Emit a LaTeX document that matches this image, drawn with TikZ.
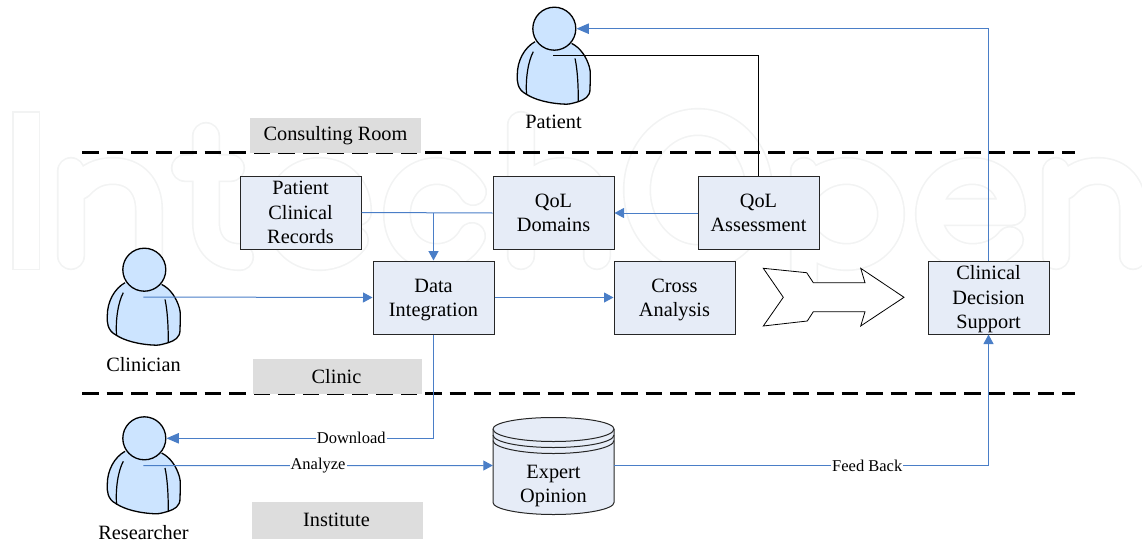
\documentclass[tikz,border=0pt]{standalone}
\usepackage{fontspec}
\setmainfont{Liberation Serif}
\usetikzlibrary{arrows.meta}
\definecolor{boxfill}{HTML}{E6ECF7}
\definecolor{bluel}{HTML}{4A7EC7}
\definecolor{personfill}{HTML}{CCE4FF}
\definecolor{tagfill}{HTML}{DDDDDD}
\definecolor{wm}{HTML}{F2F3F3}
\newcommand{\liftline}{\rule{0pt}{18pt}}
\tikzset{
 mainfont/.style={font=\fontsize{20.3}{24.5}\selectfont},
 boxn/.style={draw=black!85,fill=boxfill,line width=1pt,minimum width=121pt,minimum height=73pt,inner sep=0pt,align=center,mainfont},
 tag/.style={fill=tagfill,inner sep=0pt,mainfont},
 plain/.style={inner sep=0pt,mainfont},
 edgel/.style={fill=white,inner sep=1pt,font=\fontsize{16.5}{18}\selectfont},
 conn/.style={draw=bluel,line width=1pt},
 arr/.style={conn,-{Triangle[length=9.5pt,width=10pt]}},
 arrbig/.style={conn,-{Triangle[length=12.5pt,width=10.5pt]}},
 zone/.style={line width=2.6pt,dash pattern=on 16.5pt off 8pt},
 wmark/.style={draw=wm,line width=1.6pt,double=white,double distance=25pt,line cap=round,line join=round},
 body/.style={draw=black,line width=1.3pt,fill=personfill},
 limb/.style={draw=black,line width=1.2pt},
}
\newcommand{\personfig}[3]{%
 \begin{scope}[shift={(#2,#3)}]
  \path[body] (-19.3,13) .. controls (-30,19) and (-37,32) .. (-37,46) .. controls (-37.5,52) and (-37,61) .. (-28.3,65.3) .. controls (-20,71) and (-5,75) .. (12,75.5) .. controls (16,75.5) and (20,74) .. (24,73) .. controls (30,71) and (36,68) .. (35.7,60) .. controls (36,50) and (36.5,42) .. (35,38) .. controls (32,28) and (26,19) .. (17.3,14.7);
  \path[limb] (-21,23) .. controls (-26,32) and (-29,50) .. (-27.7,66.3);
  \path[limb] (20.7,29.7) .. controls (23,40) and (24,55) .. (24,73);
  \node[circle,draw=black,line width=1.3pt,fill=personfill,minimum size=43pt,inner sep=0pt] (#1) at (0,0) {};
  \coordinate (#1-body) at (-1,27.3);
 \end{scope}}
\begin{document}
\begin{tikzpicture}[x=1pt,y=-1pt]
\useasboundingbox (0,0) rectangle (1142,543);
% watermark
\path[wmark,line cap=rect] (26,125) -- (26,256);
\path[wmark] (71,171) -- (71,256) (80,186) .. controls (90,175) and (100,171) .. (113,171) .. controls (135,171) and (149,186) .. (149,210) -- (149,256);
\path[wmark] (206,136) -- (206,222) .. controls (206,245) and (220,257) .. (240,257) (185,168) -- (231,168);
\path[wmark] (279,212) -- (358,212) .. controls (358,188) and (343,171) .. (319,171) .. controls (295,171) and (279,190) .. (279,214) .. controls (279,238) and (295,257) .. (319,257) .. controls (335,257) and (347,250) .. (355,240);
\path[wmark] (473,192) .. controls (465,179) and (452,171) .. (437,171) .. controls (413,171) and (397,190) .. (397,214) .. controls (397,238) and (413,257) .. (437,257) .. controls (452,257) and (465,249) .. (472,236);
\path[wmark] (521,125) -- (521,256) (530,186) .. controls (540,175) and (550,171) .. (563,171) .. controls (583,171) and (597,186) .. (597,210) -- (597,256);
\path[wmark] (698,122) .. controls (664,122) and (637,152) .. (637,190) .. controls (637,228) and (664,258) .. (698,258) .. controls (732,258) and (759,228) .. (759,190) .. controls (759,152) and (732,122) .. (698,122);
\path[wmark] (804,171) -- (804,300) (807,190) .. controls (817,178) and (830,171) .. (847,171) .. controls (871,171) and (891,190) .. (891,214) .. controls (891,238) and (871,257) .. (847,257) .. controls (830,257) and (817,250) .. (807,238);
\path[wmark] (932,212) -- (1012,212) .. controls (1012,188) and (996,171) .. (972,171) .. controls (948,171) and (929,190) .. (929,214) .. controls (929,238) and (948,257) .. (972,257) .. controls (990,257) and (1002,250) .. (1010,240);
\path[wmark] (1056,171) -- (1056,256) (1065,186) .. controls (1075,175) and (1085,171) .. (1098,171) .. controls (1120,171) and (1133,186) .. (1133,210) -- (1133,256);
% zones
\coordinate (z1a) at (82,152.5);
\coordinate (z1b) at (1075,152.5);
\coordinate (z2a) at (82,393.5);
\coordinate (z2b) at (1075,393.5);
\draw[zone] (z1a) -- (z1b);
\draw[zone] (z2a) -- (z2b);
\node[tag,minimum width=171pt,minimum height=35pt,text height=14pt,text depth=4pt] (tagroom) at (335.5,135.5) {Consulting Room};
\node[tag,minimum width=169pt,minimum height=35pt] (tagclinic) at (337.5,376.5) {\hspace*{-2pt}Clinic};
\node[tag,minimum width=171pt,minimum height=37pt] (taginst) at (337.5,520.5) {\hspace*{-2pt}\raisebox{1pt}[\height][\depth]{Institute}};
% people
\personfig{patient}{554.3}{28.7}
\personfig{clinician}{144.3}{269.7}
\personfig{researcher}{144.3}{438.3}
\node[plain] (patientl) at (553.5,122) {Patient};
\node[plain] (clinicianl) at (143.5,365) {Clinician};
\node[plain] (researcherl) at (143.5,533) {Researcher};
% boxes
\node[boxn] (records) at (300.5,212.5) {Patient\\Clinical\\Records};
\node[boxn] (domains) at (553.5,213) {QoL\\Domains};
\node[boxn] (assess) at (758.5,213) {QoL\\Assessment};
\node[boxn] (integ) at (433.5,297.5) {\liftline Data\\Integration};
\node[boxn] (cross) at (674.5,297.5) {\liftline Cross\\Analysis};
\node[boxn] (cds) at (988.5,297.5) {\liftline Clinical\\Decision\\Support};
% cylinder
\path[draw=black!85,fill=boxfill,line width=1pt] (493,429) -- (493,502.5) .. controls (493,509) and (520,514.5) .. (553.5,514.5) .. controls (587,514.5) and (614,509) .. (614,502.5) -- (614,429);
\path[draw=black!85,fill=boxfill,line width=1pt] (493,429) .. controls (493,422.5) and (520,417.5) .. (553.5,417.5) .. controls (587,417.5) and (614,422.5) .. (614,429) .. controls (614,436) and (587,441.5) .. (553.5,441.5) .. controls (520,441.5) and (493,436) .. (493,429);
\path[draw=black!85,line width=1pt] (493,435) .. controls (493,442) and (520,447.5) .. (553.5,447.5) .. controls (587,447.5) and (614,442) .. (614,435);
\path[draw=black!85,line width=1pt] (493,440.5) .. controls (493,447.5) and (520,453.5) .. (553.5,453.5) .. controls (587,453.5) and (614,447.5) .. (614,440.5);
\node[minimum width=121pt,minimum height=97pt,inner sep=0pt] (expert) at (553.5,465.5) {};
\node[plain,align=center] (expertl) at (553.5,486) {Expert\\Opinion};
% big arrow
\path[draw=black,fill=white,line width=.8pt,line join=miter] (763.3,268.3) -- (806.7,272.7) -- (813.3,282.7) -- (865,282.7) -- (860.7,268.3) -- (904,297.3) -- (860.7,326) -- (865,311.7) -- (813.3,311.7) -- (807.3,321) -- (763.3,326) -- (783.3,297.3) -- cycle;
% connectors
\draw[draw=black,line width=1pt] (patient-body) -| (assess.north);
\draw[arrbig] (cds.north) |- (patient.east);
\draw[arr] (assess.west) -- (domains.east);
\draw[conn] (records.east) -- (domains.west);
\coordinate (join) at (433.5,213);
\draw[arr,line width=1.4pt] (join) -- (integ.north);
\draw[arr] (clinician-body) -- (integ.west);
\draw[arr] (integ.east) -- (cross.west);
\draw[arrbig] (integ.south) |- node[edgel,pos=.654] (dl) {Download} (researcher.east);
\draw[arr] (researcher-body) -- node[edgel,pos=.5] (al) {Analyze} (expert.west);
\draw[arr] (expert.east) -| node[edgel,pos=.338] (fb) {Feed Back} (cds.south);
\end{tikzpicture}
\end{document}
